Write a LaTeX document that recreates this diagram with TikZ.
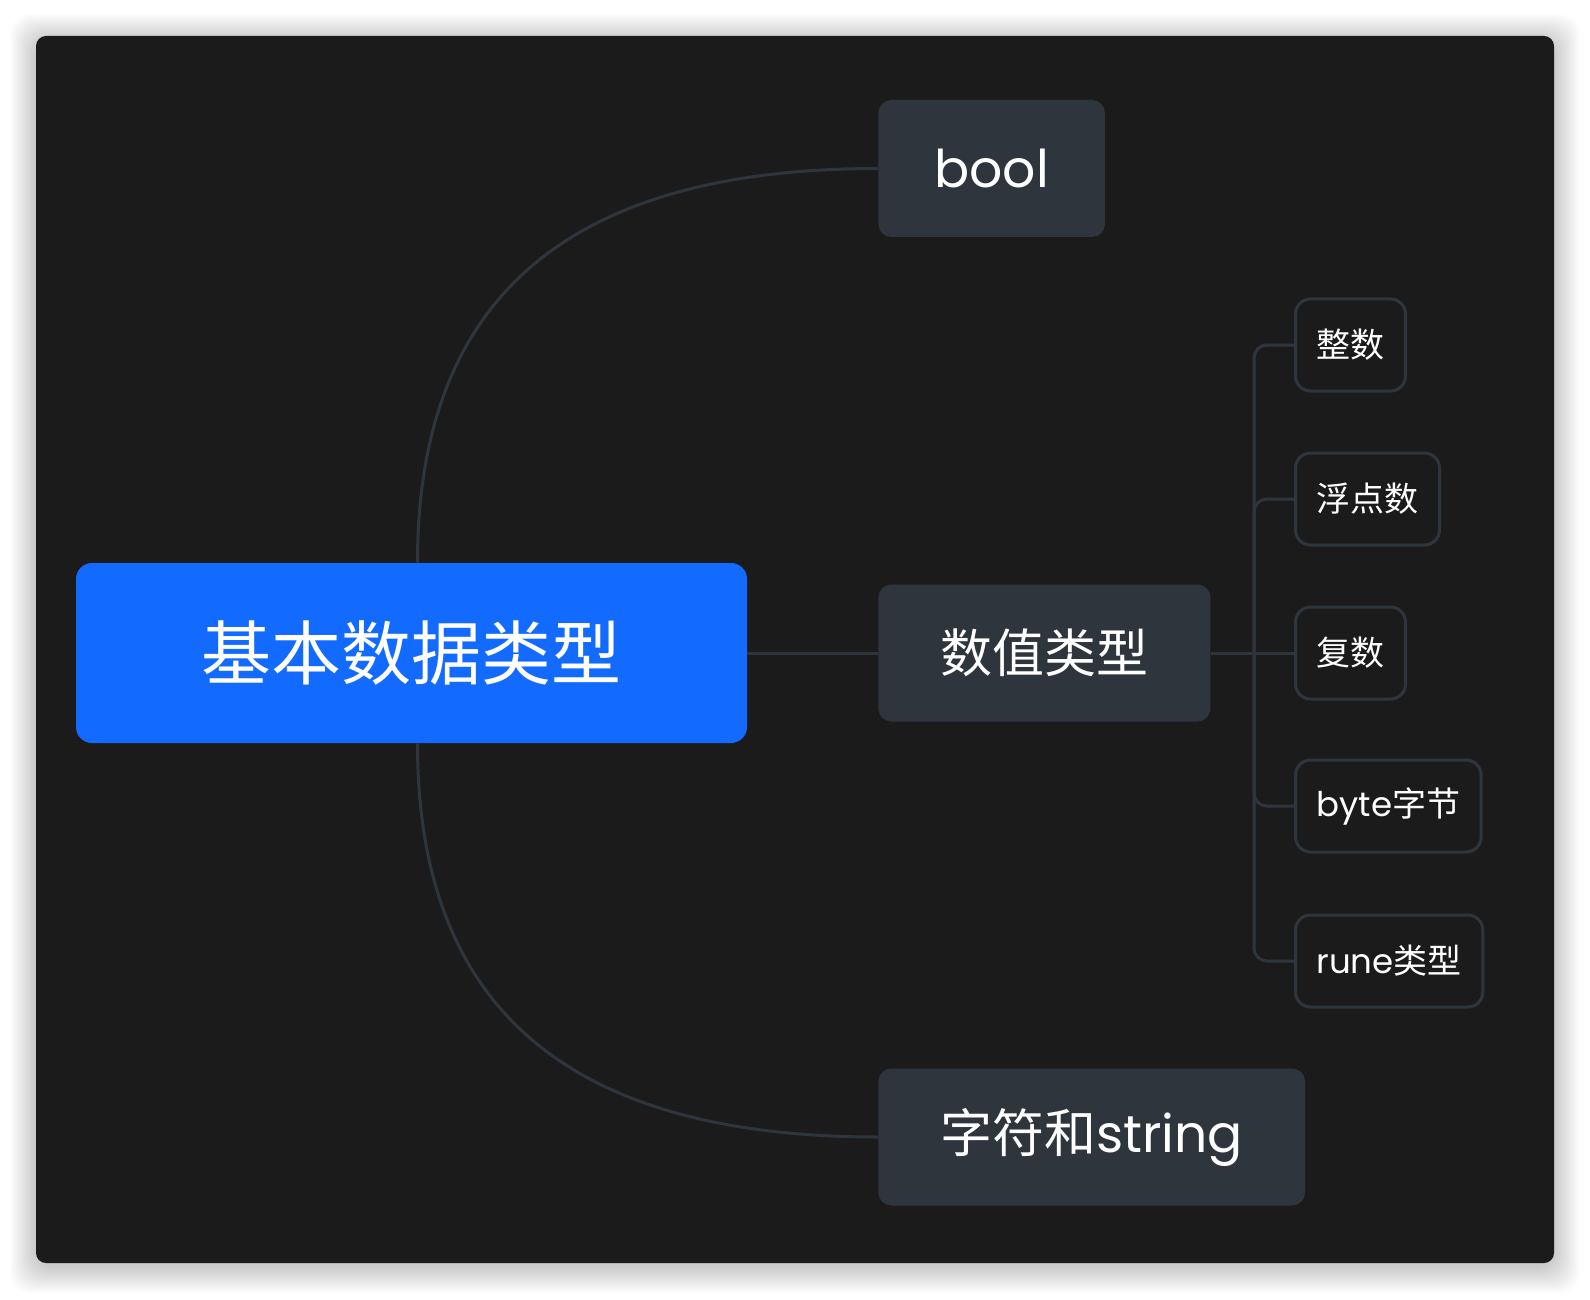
\documentclass[tikz,border=0pt]{standalone}
\usepackage{fontspec}
\setmainfont{Poppins}
\newfontfamily\cjk{Noto Sans CJK SC}
\usetikzlibrary{calc}
\definecolor{panelbg}{HTML}{1B1B1B}
\definecolor{topicgray}{HTML}{2F353D}
\definecolor{rootblue}{HTML}{136AFF}
\tikzset{
  rootbox/.style={fill=rootblue, text=white, rounded corners=8pt,
    minimum width=335.5pt, minimum height=90pt,
    font=\cjk\fontsize{35pt}{40pt}\selectfont},
  topicbox/.style={fill=topicgray, text=white, anchor=west, rounded corners=6.5pt,
    inner xsep=31pt, minimum height=68.5pt, font=\fontsize{26pt}{30pt}\selectfont},
  leafbox/.style={draw=topicgray, line width=1.5pt, fill=panelbg, text=white, anchor=west,
    rounded corners=7.5pt, inner xsep=10.5pt, minimum height=46pt,
    font=\fontsize{17pt}{20pt}\selectfont},
  branch/.style={draw=topicgray, line width=1.5pt},
}

\begin{document}
\begin{tikzpicture}[x=0.5pt,y=-0.5pt]
  \useasboundingbox (0,0) rectangle (1590,1300);
  \fill[white] (0,0) rectangle (1590,1300);
  % soft shadow round the panel
  \foreach \s in {1,...,26}
    \fill[black, opacity=0.009, rounded corners=10pt] (36-\s,36-\s+4) rectangle (1554+\s,1263+\s+4);
  \fill[panelbg, rounded corners=5pt] (36,36) rectangle (1554,1263);

  \node[rootbox] (root) at (411.5,653) {基本数据类型};
  \node[topicbox, inner xsep=28pt] (bool) at (878,168.5) {bool};
  \node[topicbox] (num) at (878,653) {{\cjk 数值类型}};
  \node[topicbox] (str) at (878,1137) {{\cjk 字符和}string};

  \node[leafbox] (int) at (1294,345) {{\cjk 整数}};
  \node[leafbox] (float) at (1294,499) {{\cjk 浮点数}};
  \node[leafbox] (cplx) at (1294,653) {{\cjk 复数}};
  \node[leafbox] (byte) at (1294,806) {byte{\cjk 字节}};
  \node[leafbox] (rune) at (1294,961) {rune{\cjk 类型}};

  \draw[branch] ($(root.north)+(6,0)$) .. controls +(0,-273) and +(-300,0) .. (bool.west);
  \draw[branch] ($(root.south)+(6,0)$) .. controls +(0,273) and +(-300,0) .. (str.west);
  \draw[branch] (root.east) -- (num.west);
  \draw[branch] (num.east) -- (cplx.west);
  \coordinate (trunk) at (1254,653);
  \foreach \leaf in {int,float,byte,rune}
    \draw[branch, rounded corners=6.5pt] (trunk) |- (\leaf.west);
\end{tikzpicture}
\end{document}
